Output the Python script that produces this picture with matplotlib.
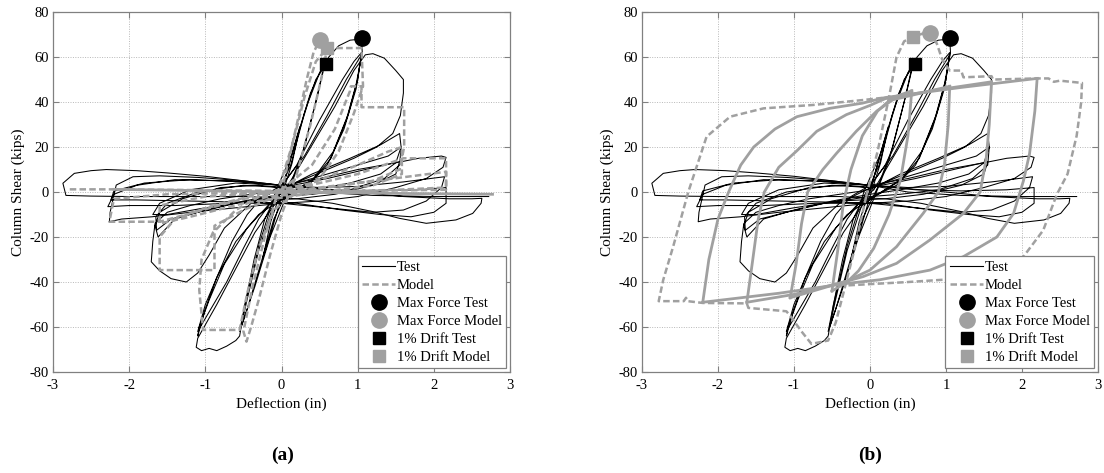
# Column shear vs deflection hysteresis: test vs model, panels (a) and (b)

import matplotlib.pyplot as plt
from matplotlib.lines import Line2D

# -------------------------------------------------------
# DATA (deflection in, shear kips)
# -------------------------------------------------------
X_TICKS = [-3, -2, -1, 0, 1, 2, 3]
Y_TICKS = [-80, -60, -40, -20, 0, 20, 40, 60, 80]

# test: elastic cycles up to 1% drift
TEST_ELASTIC = [(0.0, 0.0), (0.12, 15), (0.24, 29), (0.14, 13), (0.0, -2), (-0.12, -16),
                (-0.25, -30), (-0.14, -13), (0.02, 3), (0.2, 24), (0.38, 44), (0.5, 53),
                (0.57, 57), (0.48, 44), (0.3, 20), (0.1, 2), (-0.1, -12), (-0.3, -35),
                (-0.45, -52), (-0.53, -60), (-0.46, -49), (-0.3, -26), (-0.1, -5),
                (0.12, 12), (0.3, 35), (0.45, 50), (0.55, 55), (0.45, 40), (0.25, 14),
                (0.05, -3), (-0.15, -20), (-0.35, -42), (-0.5, -57), (-0.55, -62),
                (-0.48, -50), (-0.3, -24), (-0.08, 0)]

# test: cycles to ~1.05 in (peak force)
TEST_PEAK = [(-0.08, 0), (0.15, 18), (0.35, 40), (0.5, 53), (0.62, 60), (0.75, 65),
             (0.9, 67.5), (1.05, 68), (1.06, 62), (0.98, 48), (0.85, 32), (0.65, 15),
             (0.4, 5), (0.15, 0), (-0.1, -6), (-0.35, -18), (-0.6, -34), (-0.85, -50),
             (-1.0, -59), (-1.1, -65), (-1.12, -69), (-1.05, -70.5), (-0.95, -69.5),
             (-0.85, -70.5), (-0.72, -68.5), (-0.6, -66), (-0.55, -64), (-0.48, -50),
             (-0.36, -30), (-0.22, -12), (-0.05, 0),
             (0.2, 12), (0.5, 32), (0.8, 50), (0.95, 58), (1.05, 62), (1.0, 50),
             (0.88, 35), (0.68, 18), (0.42, 6), (0.15, 0), (-0.15, -5), (-0.45, -16),
             (-0.75, -32), (-0.95, -48), (-1.08, -60), (-1.1, -64), (-1.0, -52),
             (-0.85, -38), (-0.65, -22), (-0.45, -10), (-0.25, -2), (0.0, 3),
             (0.3, 16), (0.6, 34), (0.85, 50), (1.05, 61), (0.98, 46), (0.82, 28),
             (0.6, 12), (0.35, 3), (0.05, -2), (-0.3, -10), (-0.6, -22), (-0.85, -38),
             (-1.0, -50), (-1.1, -62), (-0.98, -55), (-0.72, -40), (-0.5, -25),
             (-0.3, -12), (-0.1, -3), (0.05, 1)]

# test: cycles to ~1.6 in
TEST_16 = [(0.05, 1), (0.35, 18), (0.7, 38), (0.95, 54), (1.1, 61), (1.2, 61.5),
           (1.35, 59.5), (1.5, 54), (1.6, 50), (1.6, 44), (1.56, 34), (1.46, 26),
           (1.25, 20), (0.95, 15), (0.6, 10), (0.25, 5), (-0.05, 1), (-0.4, -5),
           (-0.75, -16), (-0.95, -28), (-1.1, -36), (-1.25, -40), (-1.45, -38.5),
           (-1.6, -35), (-1.71, -31), (-1.69, -22), (-1.66, -14), (-1.5, -9),
           (-1.2, -6), (-0.8, -3), (-0.4, -1), (0.0, 1),
           (0.4, 8), (0.9, 15), (1.3, 21), (1.55, 26), (1.57, 20), (1.5, 13), (1.3, 8),
           (0.9, 4), (0.4, 1), (0.0, -1), (-0.5, -4), (-1.0, -8), (-1.4, -12),
           (-1.62, -20), (-1.66, -15), (-1.6, -9), (-1.3, -3), (-0.8, 2), (-0.3, 3),
           (0.0, 2), (0.5, 7), (1.0, 12), (1.4, 16), (1.57, 20), (1.55, 12),
           (1.35, 6), (0.9, 1), (0.4, -1), (0.0, -2), (-0.6, -5), (-1.1, -9),
           (-1.45, -12), (-1.64, -17), (-1.65, -11), (-1.5, -5), (-1.1, 0),
           (-0.5, 3), (0.0, 2), (0.6, 6), (1.1, 10), (1.55, 13.5), (1.5, 8), (1.2, 3),
           (0.7, -1), (0.2, -3), (-0.4, -4), (-1.0, -7), (-1.5, -10), (-1.69, -10),
           (-1.6, -5), (-1.2, 1), (-0.6, 4), (0.0, 3)]

# test: cycles to ~2.2 in
TEST_22 = [(0.0, 3), (0.5, 6), (1.0, 10), (1.5, 13), (1.8, 15), (2.1, 16), (2.16, 15.4),
           (2.12, 11), (1.9, 6), (1.5, 2), (1.0, -2), (0.5, -4), (0.0, -5), (-0.6, -7),
           (-1.2, -9), (-1.7, -11), (-2.1, -12), (-2.26, -13.2), (-2.25, -9),
           (-2.17, 3.1), (-1.95, 6.8), (-1.6, 7.2), (-1.1, 6.5), (-0.5, 5), (0.0, 3),
           (0.5, 2), (1.0, 2.5), (1.6, 4.5), (2.14, 6.8), (2.1, 2), (1.9, -4),
           (1.6, -8), (1.2, -9), (0.6, -7), (0.0, -5), (-0.7, -5), (-1.4, -6),
           (-2.0, -6), (-2.28, -6.5), (-2.2, -1), (-1.9, 3), (-1.4, 5.5), (-0.7, 5),
           (0.0, 3), (0.6, 1), (1.2, 0.5), (1.8, 1), (2.16, 2), (2.16, -5), (2.0, -9),
           (1.7, -11), (1.3, -10), (0.8, -8), (0.2, -5), (-0.5, -4.5), (-1.2, -4),
           (-1.9, -3.5), (-2.24, -3.5), (-2.2, 0.5), (-1.8, 4), (-1.2, 5.5),
           (-0.5, 4.5), (0.0, 3)]

# test: last cycle to ~2.75 in
TEST_28 = [(0.0, 3), (0.5, 1.5), (1.0, 0), (1.6, -2), (2.2, -3), (2.5, -3), (2.63, -2.8),
           (2.62, -5), (2.51, -9.5), (2.29, -12.4), (1.9, -13.9), (1.55, -11.7),
           (1.2, -8.7), (0.67, -5), (0.2, -3), (-0.4, -2), (-1.2, -2), (-2.0, -2),
           (-2.5, -1.8), (-2.83, -1.5), (-2.87, 3.9), (-2.72, 8.3), (-2.5, 9.5),
           (-2.3, 10), (-1.9, 9.5), (-1.5, 8.5), (-1.0, 7), (-0.5, 5), (0.0, 3),
           (0.5, 0), (1.2, -1.5), (2.0, -2), (2.72, -2)]

# model (a): dashed response
MODEL_A = [(0.0, 0.0), (0.1, 15), (0.22, 33), (0.33, 50), (0.42, 62), (0.5, 67.5),
           (0.6, 64), (0.52, 50), (0.38, 30), (0.2, 8), (0.0, -10), (-0.15, -28),
           (-0.3, -48), (-0.4, -60), (-0.46, -66.5), (-0.5, -62), (-0.38, -42),
           (-0.22, -20), (-0.05, 0), (0.15, 22), (0.3, 42), (0.45, 58), (0.6, 64),
           (0.8, 64), (1.05, 64), (1.07, 47), (0.95, 35), (0.75, 18), (0.5, 6),
           (0.2, 0), (-0.1, -8), (-0.3, -25), (-0.45, -45), (-0.55, -61.3),
           (-0.8, -61.3), (-1.03, -61.3), (-1.08, -43.5), (-1.05, -30), (-0.9, -18),
           (-0.6, -8), (-0.3, -2), (0.0, 1), (0.4, 12), (0.7, 28), (0.9, 45),
           (0.91, 47), (1.05, 47), (1.05, 37.7), (1.61, 37.7), (1.61, 20),
           (1.55, 10), (1.2, 5), (0.6, 2), (0.0, -1), (-0.5, -8), (-0.88, -15),
           (-0.88, -34.7), (-1.1, -34.7), (-1.6, -34.7), (-1.6, -20), (-1.4, -12),
           (-0.9, -6), (-0.3, -1), (0.4, 4), (1.0, 12), (1.4, 18), (1.58, 20),
           (1.58, 8), (1.2, 3), (0.5, 0), (-0.5, -5), (-1.2, -11), (-1.6, -14),
           (-1.6, -6), (-1.0, -2), (0.0, 0), (1.0, 8), (1.6, 15), (2.16, 15),
           (2.16, 2), (1.5, 1), (0.5, 0), (-0.5, -3), (-1.6, -13.2), (-2.26, -13.2),
           (-2.2, -3), (-1.5, -1), (0.0, 0), (1.0, 4), (2.16, 9), (2.16, 1),
           (1.0, 0.5), (0.0, 0.5), (-2.2, 1.2), (-2.78, 1.2)]
# model (a): collapsed large cycles
MODEL_A_FLAT = [(-2.2, 1.2), (-1.0, 0.6), (0.0, 0.0), (1.5, -0.6), (2.77, -1.0)]

# model (b): dashed pre-peak path and outer cycle
MODEL_B_PRE = [(-0.05, -2), (0.1, 18), (0.25, 42), (0.35, 60), (0.45, 67),
               (0.57, 69), (0.7, 70.5), (0.79, 70.5), (0.88, 66), (0.95, 59),
               (1.05, 54), (1.2, 54), (1.23, 51), (1.6, 51.5), (1.62, 50),
               (2.2, 50.5), (2.35, 50.5), (2.42, 49), (2.5, 49.5), (2.79, 48.5),
               (2.78, 40), (2.72, 25), (2.6, 8), (2.46, -1), (2.28, -17), (2.02, -28.7),
               (1.67, -36), (1.23, -38.4), (0.5, -40), (-0.3, -41.5)]
MODEL_B_NEG = [(-0.05, -2), (-0.2, -25), (-0.35, -45), (-0.45, -58), (-0.55, -66),
               (-0.77, -67.5), (-0.9, -62), (-1.05, -55), (-1.1, -53), (-1.6, -51.5),
               (-1.62, -49.5), (-2.2, -49.3), (-2.4, -48.5), (-2.42, -47),
               (-2.45, -48.5), (-2.78, -48.5), (-2.72, -39), (-2.59, -24.3),
               (-2.39, 0.1), (-2.15, 24.6), (-1.84, 33.5), (-1.4, 37.2),
               (-0.75, 38.7), (-0.09, 40.9), (0.2, 42)]

# model (b): solid cycles, up = reloading branch, dn = unloading branch
MB_C4_UP = [(-2.2, -49), (-2.12, -30), (-2.0, -12), (-1.86, 0), (-1.7, 12), (-1.53, 20),
            (-1.25, 28), (-0.96, 33.5), (-0.53, 37.2), (-0.1, 39.5), (0.2, 42),
            (1.2, 46.5), (2.2, 50.5)]
MB_C4_DN = [(2.2, 50.5), (2.17, 36), (2.1, 17), (2.02, 5), (1.89, -9.5), (1.67, -20),
            (1.23, -28.7), (0.79, -34.7), (0.13, -39), (-0.3, -40.6), (-1.2, -45),
            (-2.2, -49)]
MB_C3_UP = [(-1.62, -49), (-1.55, -32), (-1.47, -12), (-1.39, 0), (-1.2, 11),
            (-0.96, 18.4), (-0.7, 27), (-0.31, 34.4), (0.0, 38.5), (0.2, 41.5),
            (0.9, 45.5), (1.6, 49)]
MB_C3_DN = [(1.6, 49), (1.57, 30), (1.53, 15), (1.45, 0), (1.23, -9.5), (0.79, -21.3),
            (0.35, -31.7), (-0.09, -37.6), (-0.4, -40.5), (-1.0, -45.5), (-1.62, -49)]
MB_C2_UP = [(-1.05, -47), (-0.97, -31.7), (-0.9, -14), (-0.82, 0), (-0.62, 10),
            (-0.44, 17.2), (-0.18, 27), (0.09, 36), (0.3, 41), (1.05, 47)]
MB_C2_DN = [(1.05, 47), (1.03, 30), (0.98, 12), (0.9, 0), (0.7, -9.5), (0.35, -24.3),
            (0.0, -34.7), (-0.3, -39.5), (-0.7, -43.5), (-1.05, -47)]
MB_C1_UP = [(-0.5, -44), (-0.42, -25), (-0.35, -5), (-0.25, 10), (-0.1, 25),
            (0.1, 36), (0.3, 42), (0.55, 45)]
MB_C1_DN = [(0.55, 45), (0.5, 25), (0.4, 5), (0.25, -10), (0.05, -25), (-0.15, -35),
            (-0.3, -40), (-0.5, -44)]

# markers: (x, y)
MAX_FORCE_TEST = (1.05, 68.3)
MAX_FORCE_MODEL_A = (0.50, 67.5)
MAX_FORCE_MODEL_B = (0.79, 70.5)
DRIFT_TEST = (0.59, 57)
DRIFT_MODEL_A = (0.60, 64)
DRIFT_MODEL_B = (0.57, 69)

GRAY = "#a0a0a0"
LEGEND_LABELS = ["Test", "Model", "Max Force Test", "Max Force Model",
                 "1% Drift Test", "1% Drift Model"]


def xy(pts):
    return [p[0] for p in pts], [p[1] for p in pts]


plt.rcParams["font.family"] = ["Liberation Serif", "DejaVu Serif"]
plt.rcParams["axes.unicode_minus"] = False
plt.rcParams["font.size"] = 10.5

DASH = (0, (2.6, 1.3))


def draw_test(ax):
    for seg in [TEST_ELASTIC, TEST_PEAK, TEST_16, TEST_22, TEST_28]:
        ax.plot(*xy(seg), color="black", lw=0.75, zorder=3)


def draw_markers(ax, mf_model, drift_model):
    ax.plot(*drift_model, "s", color=GRAY, ms=8.5, zorder=6)
    ax.plot(*mf_model, "o", color=GRAY, ms=11, zorder=6)
    ax.plot(*DRIFT_TEST, "s", color="black", ms=8.5, zorder=7)
    ax.plot(*MAX_FORCE_TEST, "o", color="black", ms=11, zorder=7)


def setup_axes(ax):
    ax.set_xlim(-3, 3)
    ax.set_ylim(-80, 80)
    ax.set_xticks(X_TICKS)
    ax.set_yticks(Y_TICKS)
    ax.grid(True, linestyle=(0, (1, 1.5)), color="#b8b8b8", linewidth=0.7)
    ax.set_axisbelow(True)
    ax.tick_params(direction="in", top=True, right=True, length=4, color="#808080",
                   labelsize=10.5)
    ax.tick_params(axis="x", pad=5)
    ax.tick_params(axis="y", pad=3)
    for s in ax.spines.values():
        s.set_color("#808080")
        s.set_linewidth(0.9)
    ax.set_xlabel("Deflection (in)", fontsize=11, labelpad=4)
    ax.set_ylabel("Column Shear (kips)", fontsize=11, labelpad=3)

    handles = [
        Line2D([], [], color="black", lw=0.8),
        Line2D([], [], color=GRAY, lw=1.8, linestyle=DASH),
        Line2D([], [], marker="o", color="black", ms=11, linestyle="none"),
        Line2D([], [], marker="o", color=GRAY, ms=11, linestyle="none"),
        Line2D([], [], marker="s", color="black", ms=8.5, linestyle="none"),
        Line2D([], [], marker="s", color=GRAY, ms=8.5, linestyle="none"),
    ]
    leg = ax.legend(handles, LEGEND_LABELS, loc="lower right", fontsize=10.5,
                    handlelength=2.3, handletextpad=0.1, labelspacing=0.33,
                    borderpad=0.3, borderaxespad=0.25, fancybox=False,
                    framealpha=1.0, edgecolor="#808080")
    leg.get_frame().set_linewidth(0.9)
    leg.set_zorder(10)


fig = plt.figure(figsize=(11.04, 4.73), dpi=100)
ax_a = fig.add_axes([0.048, 0.2135, 0.414, 0.761])
ax_b = fig.add_axes([0.5815, 0.2135, 0.413, 0.761])

# ---- panel (a)
draw_test(ax_a)
ax_a.plot(*xy(MODEL_A), color=GRAY, lw=1.8, linestyle=DASH, zorder=4)
ax_a.plot(*xy(MODEL_A_FLAT), color=GRAY, lw=2.0, zorder=4)
draw_markers(ax_a, MAX_FORCE_MODEL_A, DRIFT_MODEL_A)
setup_axes(ax_a)

# ---- panel (b)
draw_test(ax_b)
for seg in [MB_C4_UP, MB_C4_DN, MB_C3_UP, MB_C3_DN, MB_C2_UP, MB_C2_DN,
            MB_C1_UP, MB_C1_DN]:
    ax_b.plot(*xy(seg), color=GRAY, lw=2.0, zorder=4)
for seg in [MODEL_B_PRE, MODEL_B_NEG]:
    ax_b.plot(*xy(seg), color=GRAY, lw=1.8, linestyle=DASH, zorder=4)
draw_markers(ax_b, MAX_FORCE_MODEL_B, DRIFT_MODEL_B)
setup_axes(ax_b)

fig.text(0.2555, 0.038, "(a)", ha="center", va="center", fontsize=14, fontweight="bold")
fig.text(0.7880, 0.038, "(b)", ha="center", va="center", fontsize=14, fontweight="bold")

fig.savefig("out.png", dpi=100)
